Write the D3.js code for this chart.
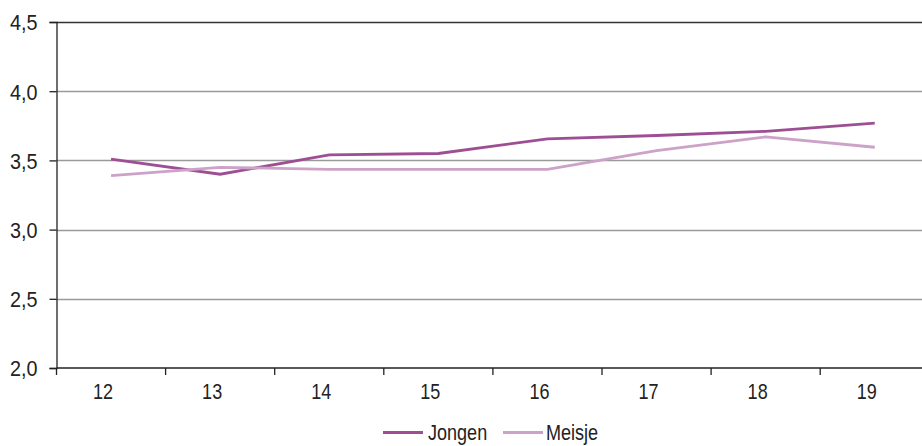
<!DOCTYPE html>
<html><head><meta charset="utf-8">
<script src="https://cdn.jsdelivr.net/npm/d3@7"></script>
<style>
body{margin:0;background:#fff;}
text{font-family:"Liberation Sans",Arial,sans-serif;fill:#222;transform-box:fill-box;}
.ye{transform:scaleX(0.9);transform-origin:right center;}
.xm{transform:scaleX(0.82);transform-origin:center center;}
.ls{transform:scaleX(0.82);transform-origin:left center;}
</style></head>
<body><svg id="c" width="922" height="446"></svg>
<script>
const categories = ["12","13","14","15","16","17","18","19"];
const jongen = [3.51, 3.40, 3.54, 3.55, 3.655, 3.68, 3.71, 3.77];
const meisje = [3.39, 3.45, 3.435, 3.435, 3.435, 3.57, 3.67, 3.595];
const yTicks = [2.0, 2.5, 3.0, 3.5, 4.0, 4.5];
const seriesNames = ["Jongen", "Meisje"];
const colors = ["#9e4f94", "#cda2c8"];

(function(){
const svg = d3.select("#c");
const mLeft = 56.5, mTop = 22, mBottom = 368;
const x = d3.scaleBand().domain(categories).range([mLeft, mLeft + 109.1*8]);
const y = d3.scaleLinear().domain([2, 4.5]).range([mBottom, mTop]);
const fmt = v => d3.format(".1f")(v).replace(".", ",");
const FS = 22;

// gridlines
svg.append("g").selectAll("line").data(yTicks.filter(t => t > 2 && t < 4.5)).join("line")
  .attr("x1", mLeft).attr("x2", 922).attr("y1", d => Math.round(y(d))+0.5).attr("y2", d => Math.round(y(d))+0.5)
  .attr("stroke", "#9a9a9a").attr("stroke-width", 1.3);
// top line
svg.append("line").attr("x1", mLeft).attr("x2", 922).attr("y1", mTop+0.5).attr("y2", mTop+0.5)
  .attr("stroke", "#333").attr("stroke-width", 1.5);

// y axis
const yAxis = svg.append("g").attr("transform", `translate(${mLeft},0)`)
  .call(d3.axisLeft(y).tickValues(yTicks).tickFormat(fmt).tickSize(7).tickPadding(12));
yAxis.attr("font-family", null).attr("font-size", null);
yAxis.select(".domain").attr("stroke", "#222").attr("stroke-width", 1.3);
yAxis.selectAll(".tick line").attr("stroke", "#222").attr("stroke-width", 1.3);
yAxis.selectAll("text").attr("font-size", FS).attr("class", "ye").attr("dy", "0.36em");

// x axis
const xAxis = svg.append("g").attr("transform", `translate(0,${mBottom})`)
  .call(d3.axisBottom(x).tickSize(0).tickPadding(15));
xAxis.attr("font-family", null).attr("font-size", null);
xAxis.select(".domain").remove();
xAxis.append("line").attr("x1", mLeft).attr("x2", 922).attr("y1", 0).attr("y2", 0).attr("stroke", "#222").attr("stroke-width", 1.3);
xAxis.selectAll(".tick text").attr("font-size", FS).attr("class", "xm").attr("dx", -8);
svg.append("g").selectAll("line").data(categories).join("line")
  .attr("x1", d => x(d)).attr("x2", d => x(d)).attr("y1", mBottom).attr("y2", mBottom + 7)
  .attr("stroke", "#222").attr("stroke-width", 1.3);

// lines
const line = d3.line().x((d, i) => x(categories[i]) + x.bandwidth()/2).y(d => y(d));
[jongen, meisje].forEach((s, i) => {
  svg.append("path").datum(s).attr("d", line).attr("fill", "none")
    .attr("stroke", colors[i]).attr("stroke-width", 2.8).attr("stroke-linejoin", "miter");
});

// legend
const leg = [{x: 383, t: 428}, {x: 503, t: 546}];
seriesNames.forEach((n, i) => {
  svg.append("line").attr("x1", leg[i].x).attr("x2", leg[i].x + 40).attr("y1", 432.5).attr("y2", 432.5)
    .attr("stroke", colors[i]).attr("stroke-width", 2.8);
  svg.append("text").attr("x", leg[i].t).attr("y", 432).attr("dy", "0.36em").attr("font-size", FS).attr("class", "ls").text(n);
});
})();
</script></body></html>
